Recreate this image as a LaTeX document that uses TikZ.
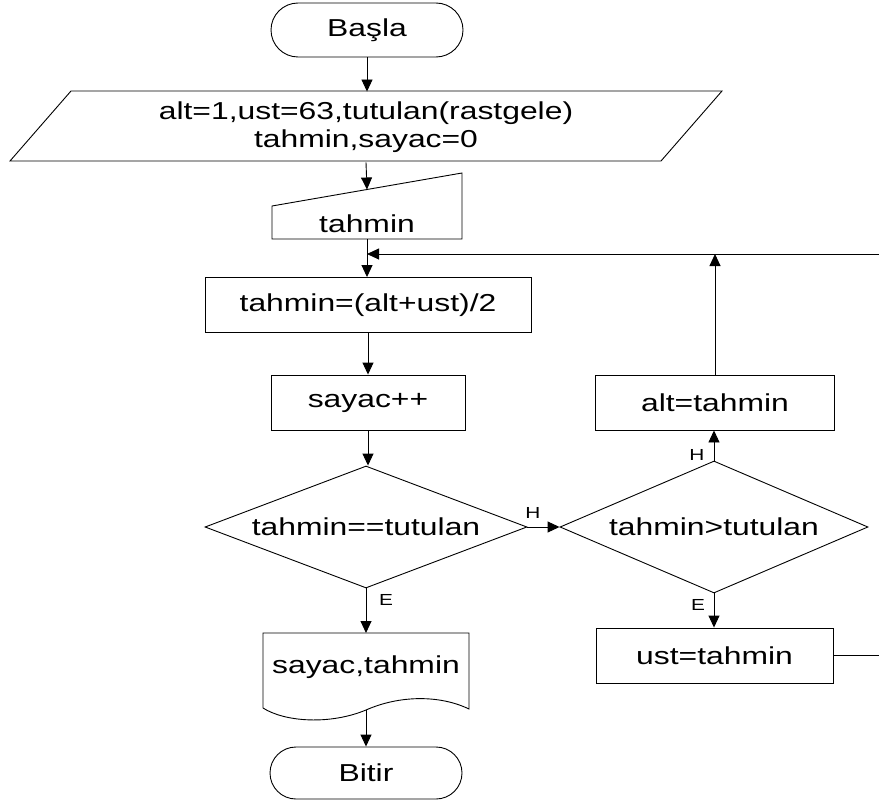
\documentclass[tikz,border=0pt]{standalone}
\usepackage{fontspec}
\setmainfont{Liberation Sans}[FakeStretch=1.3]
\usetikzlibrary{arrows.meta,shapes.geometric,shapes.misc}
\begin{document}
\begin{tikzpicture}[x=1pt,y=-1pt,
  line width=0.9pt,
  every node/.style={font=\fontsize{24.5}{28}\selectfont, align=center, inner sep=0pt},
  box/.style={draw, rectangle, minimum height=55pt},
  term/.style={draw, rounded rectangle, minimum width=192pt, minimum height=54pt},
  lbl/.style={font=\fontsize{16}{18}\selectfont},
  arr/.style={-{Triangle[length=12pt,width=11pt]}},
]
\useasboundingbox (0,0) rectangle (879,800);

% left column
\node[term] (start) at (367,30) {Başla};
\draw (71,91) -- (722,91) -- (661,161) -- (10,161) -- cycle;
\node[minimum height=70pt] (init) at (366,127) {alt=1,ust=63,tutulan(rastgele)\\tahmin,sayac=0};

\draw (272,206) -- (462,173) -- (462,239) -- (272,239) -- cycle;
\node (inp) at (367,224) {tahmin};
\coordinate (inpN) at (367,189.5);
\coordinate (inpS) at (367,239);

\node[box, minimum width=326pt] (calc) at (368,305) {tahmin=(alt+ust)/2};
\node[box, minimum width=194pt] (inc) at (368,402.5) {sayac++};
\node[draw, diamond, aspect=2.64, minimum width=322pt, minimum height=122pt] (eq) at (366,527) {tahmin==tutulan};

\draw (263,708) -- (263,633) -- (469,633) -- (469,709)
  .. controls (440,695) and (400,695) .. (366,710)
  .. controls (330,725) and (285,722) .. (263,708);
\node (out) at (366,667) {sayac,tahmin};
\coordinate (outN) at (366,633);
\coordinate (outS) at (366,710);
\node[term, minimum height=52pt] (end) at (366,773) {Bitir};

% right column
\node[draw, diamond, aspect=2.33, minimum width=308pt, minimum height=132pt] (gt) at (714,527) {tahmin>tutulan};
\node[box, minimum width=239pt] (alt) at (715,402.5) {alt=tahmin};
\node[box, minimum width=237pt] (ust) at (714.5,655.5) {ust=tahmin};

% connectors
\draw[arr] (start.south) -- (start.south |- init.north);
\draw[arr] (init.south) -- (inpN);
\draw[arr] (inpS) -- (inpS |- calc.north);
\draw[arr] (calc.south) -- (calc.south |- inc.north);
\draw[arr] (inc.south) -- (inc.south |- eq.north);
\draw[arr] (eq.south) -- (outN);
\draw[arr] (outS) -- (end.north);
\draw[arr] (eq.east) -- (gt.west);
\draw[arr] (gt.north) -- (gt.north |- alt.south);
\draw[arr] (gt.south) -- (gt.south |- ust.north);

\coordinate (join) at (367,254);
\coordinate (rtop) at (883,254);
\coordinate (rbot) at (883,655.5);
\draw[arr] (alt.north) -- (alt.north |- join);
\draw[arr] (ust.east) -- (rbot) -- (rtop) -- (join);

% labels
\node[lbl] (h1) at (533,513) {H};
\node[lbl] (h2) at (697,455) {H};
\node[lbl] (e1) at (386,600) {E};
\node[lbl] (e2) at (698,605) {E};
\end{tikzpicture}
\end{document}
